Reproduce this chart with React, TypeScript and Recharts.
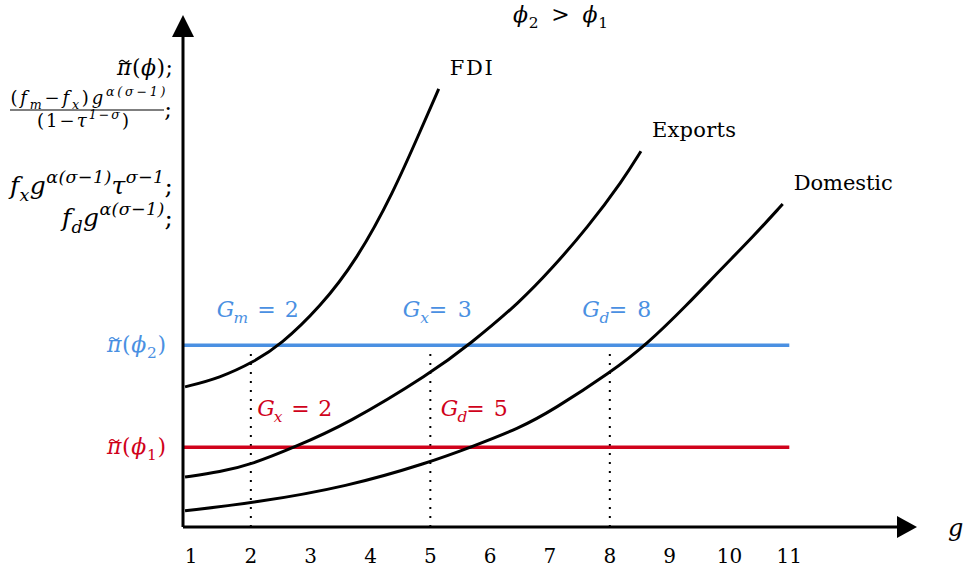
import React from "react";
import { LineChart, Line, XAxis, YAxis, ReferenceLine, ReferenceDot } from "recharts";

const FONT = "DejaVu Serif";
const BLUE = "#4a90e2";
const RED = "#d0021b";

const xTicks = [1, 2, 3, 4, 5, 6, 7, 8, 9, 10, 11];

// curves
const fdi = [
  { x: 0.9, y: 2.86 }, { x: 1.48, y: 3.04 }, { x: 2.05, y: 3.37 }, { x: 2.49, y: 3.71 },
  { x: 3.16, y: 4.49 }, { x: 3.77, y: 5.45 }, { x: 4.38, y: 6.82 }, { x: 4.86, y: 8.16 },
  { x: 5.14, y: 8.94 },
];
const exportsCurve = [
  { x: 0.9, y: 1.02 }, { x: 1.48, y: 1.12 }, { x: 2.04, y: 1.29 }, { x: 2.69, y: 1.61 },
  { x: 3.61, y: 2.1 }, { x: 5.01, y: 3.14 }, { x: 5.66, y: 3.73 }, { x: 6.5, y: 4.59 },
  { x: 7.05, y: 5.3 }, { x: 7.62, y: 6.1 }, { x: 8.22, y: 7.08 }, { x: 8.52, y: 7.67 },
];
const domestic = [
  { x: 0.9, y: 0.33 }, { x: 2.04, y: 0.49 }, { x: 3.61, y: 0.82 }, { x: 5.01, y: 1.33 },
  { x: 5.63, y: 1.61 }, { x: 6.5, y: 2.02 }, { x: 7.05, y: 2.39 }, { x: 8.02, y: 3.16 },
  { x: 8.62, y: 3.73 }, { x: 9.29, y: 4.53 }, { x: 9.84, y: 5.24 }, { x: 10.39, y: 5.92 },
  { x: 10.89, y: 6.59 },
];

const piPhi2 = 3.71;
const piPhi1 = 1.63;
const thresholds = [2, 5, 8];
const blueLabels = [
  { x: 2, sym: "m", rest: "\u2002=\u20022" },
  { x: 5, sym: "x", rest: "=\u20023" },
  { x: 8, sym: "d", rest: "=\u20028" },
];
const redLabels = [
  { x: 2, sym: "x", rest: "\u2002=\u20022" },
  { x: 5, sym: "d", rest: "=\u20025" },
];

type Seg = { t: string; it?: boolean; sub?: boolean; sup?: boolean; tilde?: boolean };

const yTickValues = [9.37, 8.51, 6.94, 6.29, piPhi2, piPhi1];
const yTickLabels: Seg[][] = [
  [{ t: "π", it: true, tilde: true }, { t: "(" }, { t: "ϕ", it: true }, { t: ");" }],
  [],
  [{ t: "f", it: true }, { t: "x", it: true, sub: true }, { t: "g", it: true }, { t: "α(σ−1)", it: true, sup: true }, { t: "τ", it: true }, { t: "σ−1", it: true, sup: true }, { t: ";" }],
  [{ t: "f", it: true }, { t: "d", it: true, sub: true }, { t: "g", it: true }, { t: "α(σ−1)", it: true, sup: true }, { t: ";" }],
  [{ t: "π", it: true, tilde: true }, { t: "(" }, { t: "ϕ", it: true }, { t: "2", sub: true }, { t: ")" }],
  [{ t: "π", it: true, tilde: true }, { t: "(" }, { t: "ϕ", it: true }, { t: "1", sub: true }, { t: ")" }],
];
const yTickColors = ["#000", "#000", "#000", "#000", BLUE, RED];
const fracNum: Seg[] = [
  { t: "(" }, { t: "f", it: true }, { t: "m", it: true, sub: true }, { t: "−" }, { t: "f", it: true },
  { t: "x", it: true, sub: true }, { t: ")" }, { t: "g", it: true }, { t: "α(σ−1)", it: true, sup: true },
];
const fracDen: Seg[] = [{ t: "(1−" }, { t: "τ", it: true }, { t: "1−σ", it: true, sup: true }, { t: ")" }];

// left edge / width / size of each y label, taken from the figure
const yLabelBox = [
  { x: 117, w: 56, s: 22 }, null, { x: 10, w: 163, s: 25 }, { x: 62, w: 111, s: 25 },
  { x: 107, w: 59, s: 22 }, { x: 107, w: 59, s: 22 },
];

function MathText({ x, y, segs, size, anchor = "start", fill = "#000", len }: any) {
  let shift = 0;
  const spans = segs.map((s: Seg, i: number) => {
    const target = s.sub ? size * 0.28 : s.sup ? -size * 0.42 : 0;
    const dy = target - shift;
    shift = target;
    return (
      <tspan key={i} dy={dy} fontSize={s.sub || s.sup ? size * 0.7 : size} fontStyle={s.it ? "italic" : "normal"}>
        {s.t}
      </tspan>
    );
  });
  const lenProps = len ? { textLength: len, lengthAdjust: "spacing" } : {};
  const tx = x + size * 0.1;
  const ty = y - size * 0.66;
  return (
    <g>
      <text x={x} y={y} textAnchor={anchor} fill={fill} style={{ fontFamily: FONT }} fontSize={size} {...lenProps}>
        {spans}
      </text>
      {segs[0] && segs[0].tilde ? (
        <path d={`M${tx} ${ty + 2} q2.5 -3.5 5 -1 t5 -1`} fill="none" stroke={fill} strokeWidth={1.3} />
      ) : null}
    </g>
  );
}

function YTick(props: any) {
  const { y, payload } = props;
  const i = yTickValues.indexOf(payload.value);
  if (i === 1) {
    return (
      <g>
        <MathText x={88} y={y - 6} segs={fracNum} size={18} anchor="middle" len={155} />
        <line x1={10} x2={164} y1={y} y2={y} stroke="#000" strokeWidth={1.2} />
        <MathText x={83} y={y + 17} segs={fracDen} size={18} anchor="middle" len={92} />
        <text x={172} y={y + 7} textAnchor="end" style={{ fontFamily: FONT }} fontSize={23}>;</text>
      </g>
    );
  }
  const box = yLabelBox[i]!;
  return <MathText x={box.x} y={y + 7} segs={yTickLabels[i]} size={box.s} fill={yTickColors[i]} len={box.w} />;
}

const endLabel = (name: string, n: number, w: number) => (p: any) =>
  p.index === n - 1 ? (
    <text key={name} x={p.x + 11} y={p.y - 14} style={{ fontFamily: FONT }} fontSize={21} fill="#000" textLength={w} lengthAdjust="spacing">
      {name}
    </text>
  ) : (
    <g key={p.index} />
  );

export default function App() {
  return (
    <div style={{ position: "absolute", left: 0, top: 0, width: 967, height: 573, background: "#fff" }}>
      <svg width={967} height={40} style={{ position: "absolute", left: 0, top: 0 }}>
        <MathText
          x={513}
          y={22}
          size={22}
          len={95}
          segs={[{ t: "ϕ", it: true }, { t: "2", sub: true }, { t: "\u2002>\u2002" }, { t: "ϕ", it: true }, { t: "1", sub: true }]}
        />
      </svg>
      <LineChart width={967} height={573} margin={{ top: 37, right: 70, bottom: 0, left: 0 }}>
        <XAxis
          type="number"
          dataKey="x"
          domain={[0.866, 12.8]}
          ticks={xTicks}
          allowDataOverflow
          tickLine={false}
          axisLine={{ stroke: "#000", strokeWidth: 3 }}
          tick={{ fontSize: 20, fill: "#000", fontFamily: FONT }}
          tickMargin={16}
          height={46}
          label={{
            content: (p: any) => (
              <MathText x={p.viewBox.x + p.viewBox.width + 51} y={p.viewBox.y + 9} size={24} segs={[{ t: "g", it: true }]} />
            ),
          }}
        />
        <YAxis
          type="number"
          domain={[0, 10]}
          ticks={yTickValues}
          allowDataOverflow
          tickLine={false}
          axisLine={{ stroke: "#000", strokeWidth: 3 }}
          tick={<YTick />}
          width={183}
        />
        {thresholds.map((g) => (
          <ReferenceLine
            key={g}
            segment={[{ x: g, y: 0 }, { x: g, y: piPhi2 }]}
            stroke="#000"
            strokeWidth={2}
            strokeDasharray="2 7"
          />
        ))}
        <ReferenceLine segment={[{ x: 0.866, y: piPhi2 }, { x: 11, y: piPhi2 }]} stroke={BLUE} strokeWidth={3.5} />
        <ReferenceLine segment={[{ x: 0.866, y: piPhi1 }, { x: 11, y: piPhi1 }]} stroke={RED} strokeWidth={3.5} />
        {blueLabels.map((l) => (
          <ReferenceDot
            key={"b" + l.x}
            x={l.x}
            y={piPhi2}
            r={1}
            shape={(p: any) => (
              <MathText x={p.cx + 7} y={p.cy - 28} size={22} anchor="middle" fill={BLUE} len={l.sym === "m" ? 82 : 69}
                segs={[{ t: "G", it: true }, { t: l.sym, it: true, sub: true }, { t: l.rest }]} />
            )}
          />
        ))}
        {redLabels.map((l) => (
          <ReferenceDot
            key={"r" + l.x}
            x={l.x}
            y={piPhi1}
            r={1}
            shape={(p: any) => (
              <MathText x={p.cx + 44} y={p.cy - 31} size={22} anchor="middle" fill={RED} len={l.x === 2 ? 75 : 67}
                segs={[{ t: "G", it: true }, { t: l.sym, it: true, sub: true }, { t: l.rest }]} />
            )}
          />
        ))}
        <Line data={fdi} dataKey="y" type="basis" stroke="#000" strokeWidth={3} dot={false}
          isAnimationActive={false} label={endLabel("FDI", fdi.length, 43)} />
        <Line data={exportsCurve} dataKey="y" type="basis" stroke="#000" strokeWidth={3} dot={false}
          isAnimationActive={false} label={endLabel("Exports", exportsCurve.length, 84)} />
        <Line data={domestic} dataKey="y" type="basis" stroke="#000" strokeWidth={3} dot={false}
          isAnimationActive={false} label={endLabel("Domestic", domestic.length, 99)} />
        <ReferenceDot x={12.8} y={0} r={1} shape={(p: any) => (
          <polygon points={`${p.cx},${p.cy - 11} ${p.cx + 20},${p.cy} ${p.cx},${p.cy + 11}`} fill="#000" />
        )} />
        <ReferenceDot x={0.866} y={10} r={1} shape={(p: any) => (
          <polygon points={`${p.cx - 11},${p.cy} ${p.cx},${p.cy - 22} ${p.cx + 11},${p.cy}`} fill="#000" />
        )} />
      </LineChart>
    </div>
  );
}
